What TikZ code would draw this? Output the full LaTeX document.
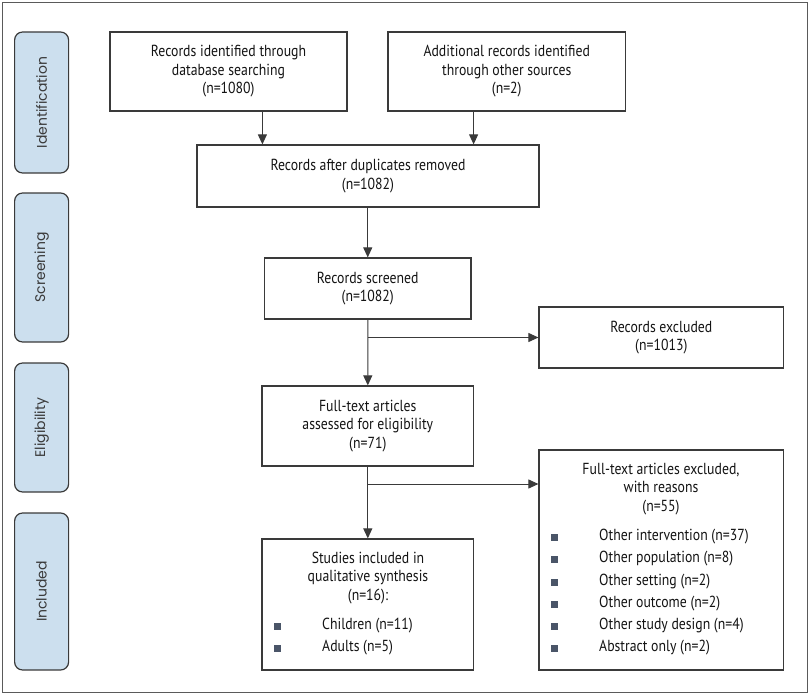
\documentclass[tikz,border=0pt]{standalone}
\usepackage{fontspec}
\setmainfont{PT Sans}[FakeStretch=0.86]
\newfontfamily\labfont{Poppins}
\usetikzlibrary{arrows.meta,calc}
\definecolor{linec}{HTML}{3A3A3A}
\definecolor{framec}{HTML}{5A5A5A}
\definecolor{labfill}{HTML}{CCDFEE}
\definecolor{bulc}{HTML}{4A5568}
\definecolor{txtc}{HTML}{141414}
\tikzset{
  box/.style={draw=linec, line width=1.2pt, fill=white, inner sep=0pt, align=center,
    font=\fontsize{16}{18.5}\selectfont, text=txtc},
  phase/.style={draw=linec, line width=1.2pt, fill=labfill, rounded corners=8pt,
    minimum width=54pt, inner sep=0pt},
  phasetxt/.style={rotate=90, font=\labfont\fontsize{14}{16}\selectfont, text=linec},
  arr/.style={draw=linec, line width=1pt, -{Triangle[length=10pt,width=9pt]}},
  bul/.style={fill=bulc, minimum size=7pt, inner sep=0pt},
  itm/.style={anchor=west, inner sep=0pt, font=\fontsize{16}{18.5}\selectfont, text=txtc},
  ttl/.style={align=center, inner sep=0pt, font=\fontsize{16}{18.5}\selectfont, text=txtc}
}
\begin{document}
\begin{tikzpicture}[x=1pt,y=-1pt]
\useasboundingbox (0,0) rectangle (810,695);
\draw[framec, line width=1.5pt] (2.5,2.5) rectangle (807.5,692.5);

% phase labels
\node[phase, minimum height=141pt] (pI) at (41.6,102.5) {};
\node[phasetxt] (tI) at (pI.center) {Identification};
\node[phase, minimum height=149pt] (pS) at (41.6,267.5) {};
\node[phasetxt] (tS) at (pS.center) {Screening};
\node[phase, minimum height=129pt] (pE) at (41.6,427.5) {};
\node[phasetxt] (tE) at (pE.center) {Eligibility};
\node[phase, minimum height=157pt] (pN) at (41.6,591.5) {};
\node[phasetxt] (tN) at (pN.center) {Included};

% boxes
\node[box, minimum width=237pt, minimum height=79pt] (A) at (228.5,71.5)
  {Records identified through\\database searching\\(n=1080)};
\node[box, minimum width=237.5pt, minimum height=79pt] (B) at (506.75,71.5)
  {Additional records identified\\through other sources\\(n=2)};
\node[box, minimum width=342pt, minimum height=62pt] (C) at (368,176)
  {Records after duplicates removed\\(n=1082)};
\node[box, minimum width=206.5pt, minimum height=61pt] (D) at (367.75,288.5)
  {Records screened\\(n=1082)};
\node[box, minimum width=244.6pt, minimum height=61pt] (E) at (661.3,337.5)
  {Records excluded\\(n=1013)};
\node[box, minimum width=211.6pt, minimum height=80pt] (F) at (367.8,426)
  {Full-text articles\\assessed for eligibility\\(n=71)};
\node[box, minimum width=244.6pt, minimum height=220pt] (G) at (661.3,560) {};
\node[box, minimum width=211.6pt, minimum height=131pt] (H) at (367.8,604.5) {};

% G contents
\node[ttl] (Gt) at (661,489) {Full-text articles excluded,\\with reasons\\(n=55)};
\foreach \y/\t [count=\i] in {537/Other intervention (n=37),559/Other population (n=8),
  582/Other setting (n=2),604/Other outcome (n=2),626/Other study design (n=4),
  648/Abstract only (n=2)}{
  \node[bul] (gb\i) at (554,\y) {};
  \node[itm] (gi\i) at (599,\y) {\t};
}
% H contents
\node[ttl] (Ht) at (368,578) {Studies included in\\qualitative synthesis\\(n=16):};
\node[bul] (hb1) at (277,626) {};
\node[itm] (hi1) at (322,626) {Children (n=11)};
\node[bul] (hb2) at (277,648) {};
\node[itm] (hi2) at (322,648) {Adults (n=5)};

% connectors
\coordinate (ax) at (262.4,0);
\coordinate (bx) at (473.6,0);
\coordinate (gy) at (0,484);
\draw[arr] (A.south -| ax) -- (C.north -| ax);
\draw[arr] (B.south -| bx) -- (C.north -| bx);
\draw[arr] (C.south -| D.north) -- (D.north);
\draw[arr] (D.south) -- (F.north);
\draw[arr] (D.south |- E.west) -- (E.west);
\draw[arr] (F.south) -- (H.north);
\draw[arr] (F.south |- gy) -- (G.west |- gy);
\end{tikzpicture}
\end{document}
